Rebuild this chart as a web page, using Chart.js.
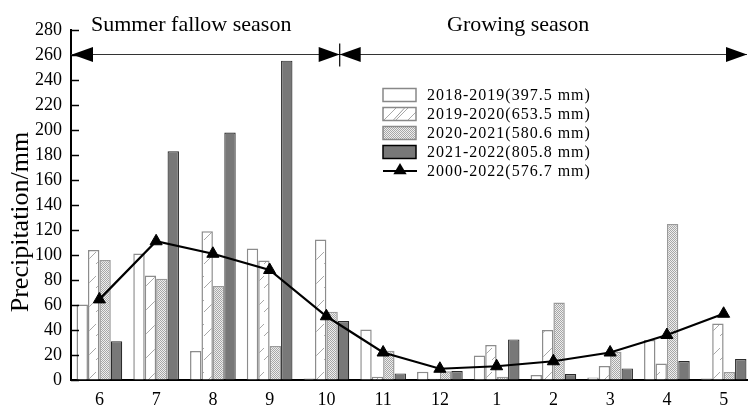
<!DOCTYPE html>
<html>
<head>
<meta charset="utf-8">
<script src="https://cdn.jsdelivr.net/npm/chart.js@4.4.1/dist/chart.umd.min.js"></script>
<style>
  html, body { margin: 0; padding: 0; background: #fff; overflow: hidden; }
  #wrap { width: 748px; height: 407px; overflow: hidden; }
</style>
</head>
<body>
<div id="wrap"><canvas id="precipChart" width="760" height="407"></canvas></div>
<script>
const months = ['6', '7', '8', '9', '10', '11', '12', '1', '2', '3', '4', '5'];
const p1819 = [60.5, 101.3, 23.2, 105.3, 1.3, 40.5, 6.7, 19.7, 4, 2.1, 32, 1.3];
const p1920 = [104, 83.7, 119, 95.7, 112.5, 2.7, 1, 28, 40, 11.2, 13.3, 45.3];
const p2021 = [96, 81, 75.2, 27.2, 54.7, 23.5, 7, 2.7, 62, 22.7, 124.8, 6.4];
const p2122 = [31, 183, 198, 255.5, 47.2, 5.3, 7.2, 32.5, 4.8, 9.3, 15.2, 16.8];
const p0022 = [64.5, 111, 101, 88, 51, 22, 9, 11, 15, 22, 36, 53];
const seriesLabels = [
  '2018-2019(397.5 mm)',
  '2019-2020(653.5 mm)',
  '2020-2021(580.6 mm)',
  '2021-2022(805.8 mm)',
  '2000-2022(576.7 mm)'
];
const seasonLabels = ['Summer fallow season', 'Growing season'];
const yTitle = 'Precipitation/mm';

// fill patterns
function makeHatch() {
  const c = document.createElement('canvas');
  c.width = 12; c.height = 24;
  const g = c.getContext('2d');
  g.fillStyle = '#fff';
  g.fillRect(0, 0, 12, 24);
  g.strokeStyle = '#a8a8a8';
  g.lineWidth = 1;
  g.beginPath();
  g.moveTo(0, 24);
  g.lineTo(12, 12);
  g.stroke();
  return g.createPattern(c, 'repeat');
}
function makeDots() {
  const c = document.createElement('canvas');
  c.width = 2; c.height = 2;
  const g = c.getContext('2d');
  g.fillStyle = '#eeeeee';
  g.fillRect(0, 0, 2, 2);
  g.fillStyle = '#a6a6a6';
  g.fillRect(0, 0, 1, 1);
  g.fillRect(1, 1, 1, 1);
  return g.createPattern(c, 'repeat');
}
const hatch = makeHatch();
const dots = makeDots();

const fills = ['#ffffff', hatch, dots, '#787878'];
const borders = ['#8c8c8c', '#8c8c8c', '#9a9a9a', '#2a2a2a'];

const serif = "'Liberation Serif', 'Times New Roman', serif";

function triangle(ctx, cx, cy, r) {
  ctx.beginPath();
  ctx.moveTo(cx, cy - r);
  ctx.lineTo(cx + r * 0.95, cy + r * 0.6);
  ctx.lineTo(cx - r * 0.95, cy + r * 0.6);
  ctx.closePath();
  ctx.fill();
}

function arrowHead(ctx, tipX, y, dir) {
  // dir = -1 points left, 1 points right
  ctx.beginPath();
  ctx.moveTo(tipX, y);
  ctx.lineTo(tipX - dir * 21, y - 7.5);
  ctx.lineTo(tipX - dir * 21, y + 7.5);
  ctx.closePath();
  ctx.fill();
}

const decor = {
  id: 'decor',
  afterDraw(chart) {
    const { ctx, chartArea, scales } = chart;
    const x = scales.x, y = scales.y;
    ctx.save();

    // inward y ticks
    ctx.strokeStyle = '#000';
    ctx.lineWidth = 1.5;
    for (let v = 0; v <= 280; v += 20) {
      const py = Math.round(y.getPixelForValue(v)) + 0.5;
      ctx.beginPath();
      ctx.moveTo(chartArea.left, py);
      ctx.lineTo(chartArea.left + 8, py);
      ctx.stroke();
    }

    // y title
    ctx.save();
    ctx.translate(28, 222);
    ctx.rotate(-Math.PI / 2);
    ctx.fillStyle = '#000';
    ctx.font = '26px ' + serif;
    ctx.textAlign = 'center';
    ctx.textBaseline = 'alphabetic';
    ctx.fillText(yTitle, 0, 0);
    ctx.restore();

    // season arrows
    const step = x.getPixelForValue(1) - x.getPixelForValue(0);
    const split = x.getPixelForValue(4) + step * 0.235;
    const ay = Math.round(y.getPixelForValue(261)) + 0.5;
    const right = 747;
    ctx.strokeStyle = '#333';
    ctx.lineWidth = 1.2;
    ctx.beginPath();
    ctx.moveTo(chartArea.left, ay);
    ctx.lineTo(right, ay);
    ctx.stroke();
    ctx.fillStyle = '#000';
    arrowHead(ctx, chartArea.left + 1, ay, -1);
    arrowHead(ctx, split, ay, 1);
    arrowHead(ctx, split, ay, -1);
    arrowHead(ctx, right, ay, 1);
    ctx.strokeStyle = '#000';
    ctx.lineWidth = 1.2;
    ctx.beginPath();
    ctx.moveTo(split, ay - 11);
    ctx.lineTo(split, ay + 12);
    ctx.stroke();

    ctx.font = '22px ' + serif;
    ctx.textAlign = 'left';
    ctx.textBaseline = 'alphabetic';
    ctx.fillText(seasonLabels[0], 91, 31);
    ctx.fillText(seasonLabels[1], 447, 31);

    // legend
    const lx = 383, bw = 33, bh = 13;
    const rows = [95, 114, 133, 152, 171];
    for (let i = 0; i < 4; i++) {
      const cy = rows[i];
      ctx.fillStyle = fills[i];
      ctx.fillRect(lx, cy - bh / 2, bw, bh);
      ctx.strokeStyle = i === 3 ? '#000' : '#888';
      ctx.lineWidth = 1.5;
      ctx.strokeRect(lx, cy - bh / 2, bw, bh);
      if (i === 1) {
        ctx.strokeStyle = '#999';
        ctx.lineWidth = 1;
        ctx.beginPath();
        ctx.moveTo(lx + 10, cy + bh / 2);
        ctx.lineTo(lx + 22, cy - bh / 2);
        ctx.stroke();
      }
    }
    ctx.strokeStyle = '#000';
    ctx.lineWidth = 2;
    ctx.beginPath();
    ctx.moveTo(lx, rows[4]);
    ctx.lineTo(lx + bw + 1, rows[4]);
    ctx.stroke();
    ctx.fillStyle = '#000';
    triangle(ctx, lx + 17, rows[4] - 1, 7);

    ctx.font = '16px ' + serif;
    ctx.letterSpacing = '1px';
    ctx.textBaseline = 'middle';
    ctx.fillStyle = '#000';
    seriesLabels.forEach((t, i) => ctx.fillText(t, 427, rows[i] + 1));
    ctx.restore();
  }
};

const barSets = [p1819, p1920, p2021, p2122].map((d, i) => ({
  type: 'bar',
  label: seriesLabels[i],
  data: d,
  backgroundColor: fills[i],
  borderColor: borders[i],
  borderWidth: i === 3 ? 1.2 : 1.5,
  borderSkipped: 'bottom',
  categoryPercentage: 0.805,
  barPercentage: 1.0,
  order: 1
}));

new Chart(document.getElementById('precipChart'), {
  type: 'bar',
  data: {
    labels: months,
    datasets: [
      {
        type: 'line',
        label: seriesLabels[4],
        data: p0022,
        borderColor: '#000',
        backgroundColor: '#000',
        borderWidth: 2.2,
        pointStyle: 'triangle',
        pointRadius: 7,
        pointBorderWidth: 1,
        pointBackgroundColor: '#000',
        tension: 0,
        order: 0
      },
      ...barSets
    ]
  },
  options: {
    responsive: false,
    animation: false,
    devicePixelRatio: 1,
    layout: { padding: { top: 30, right: 4, left: 0, bottom: 0 } },
    plugins: {
      legend: { display: false },
      tooltip: { enabled: false }
    },
    scales: {
      x: {
        grid: { display: true, drawOnChartArea: false, drawTicks: false },
        border: { display: true, color: '#000', width: 2 },
        ticks: {
          color: '#000',
          padding: 9,
          font: { family: serif, size: 18 }
        },
        afterFit(scale) { scale.height = 27; }
      },
      y: {
        min: 0,
        max: 280,
        grid: { display: true, drawOnChartArea: false, drawTicks: false },
        border: { display: true, color: '#000', width: 2 },
        ticks: {
          stepSize: 20,
          color: '#000',
          padding: 9,
          font: { family: serif, size: 18 }
        },
        afterFit(scale) { scale.width = 71; }
      }
    }
  },
  plugins: [decor]
});
</script>
</body>
</html>
